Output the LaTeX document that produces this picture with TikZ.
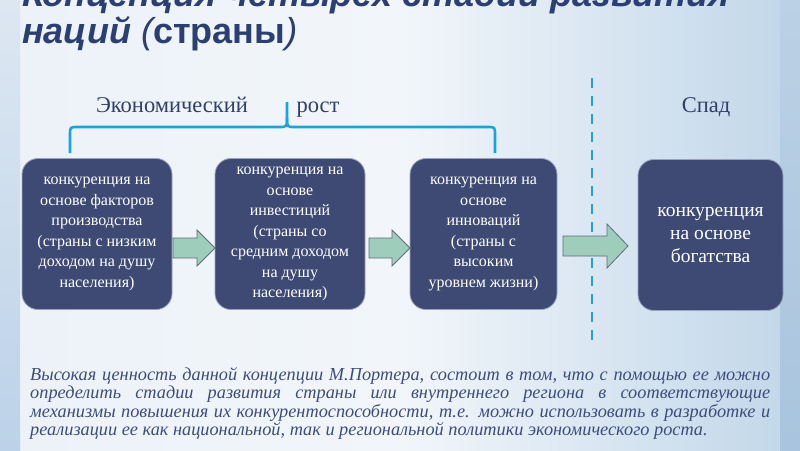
\documentclass[tikz,border=0pt]{standalone}
\usepackage{fontspec}
\setmainfont{Liberation Serif}
\newfontfamily\titlefont{Liberation Sans}
\newfontfamily\parafont{Liberation Serif}
\usetikzlibrary{calc}
\definecolor{titleblue}{HTML}{2B3F73}
\definecolor{boxfill}{HTML}{3E4A74}
\definecolor{boxline}{HTML}{98A2BE}
\definecolor{arrfill}{HTML}{9FCDBB}
\definecolor{arrline}{HTML}{636A7A}
\definecolor{cyanline}{HTML}{1BA3E0}
\definecolor{labelcol}{HTML}{2F3E6A}
\definecolor{paracol}{HTML}{3D4D7A}
\definecolor{bgleft}{HTML}{ECF2F8}
\definecolor{bgmid}{HTML}{F2F6FA}
\definecolor{bgright}{HTML}{C3D8EA}
\definecolor{lstriptop}{HTML}{DDE7F2}
\definecolor{lstripbot}{HTML}{BCD2E8}
\definecolor{rstriptop}{HTML}{BBD1E5}
\definecolor{rstripbot}{HTML}{A9C4DE}
\tikzset{
  stagebox/.style={draw=boxline, line width=0.8pt, fill=boxfill, rounded corners=16pt,
    text=white, align=center, inner sep=0pt, font=\fontsize{16}{20.5}\selectfont},
  blockarr/.style={draw=arrline, line width=0.8pt, fill=arrfill},
  bracepath/.style={draw=cyanline, line width=2.6pt},
  dashpath/.style={draw=cyanline, line width=2.6pt, dash pattern=on 10pt off 8pt},
  toplabel/.style={text=labelcol, inner sep=0pt, anchor=base, font=\fontsize{22.5}{22.5}\selectfont}
}
\begin{document}
\begin{tikzpicture}[x=1pt,y=-1pt]
\useasboundingbox (0,0) rectangle (800,450);
\clip (0,0) rectangle (800,450);
% background
\shade[left color=bgleft, right color=bgright, middle color=bgmid] (20,0) rectangle (780,450);
\shade[top color=lstriptop, bottom color=lstripbot] (0,0) rectangle (20,450);
\shade[top color=rstriptop, bottom color=rstripbot] (780,0) rectangle (800,450);

% title
\node[anchor=base west, inner sep=0pt, text=titleblue,
  font=\titlefont\bfseries\itshape\fontsize{36}{36}\selectfont] (t1) at (22,6)
  {Концепция четырех стадий развития};
\node[anchor=base west, inner sep=0pt, text=titleblue,
  font=\titlefont\bfseries\itshape\fontsize{36}{36}\selectfont] (t2) at (22,43)
  {наций {\mdseries(}{\upshape страны}{\mdseries)}};

% labels
\node[toplabel] (econ) at (172,112) {Экономический};
\node[toplabel] (rost) at (318,112) {рост};
\node[toplabel] (spad) at (706,112) {Спад};

% brace
\draw[bracepath] (70,153) -- (70,135) .. controls (70,127) .. (78,127) -- (279,127)
  .. controls (287,127) .. (287,118) -- (287,102);
\draw[bracepath] (495,153) -- (495,135) .. controls (495,127) .. (487,127) -- (295,127)
  .. controls (287,127) .. (287,118);

% dashed divider
\coordinate (dtop) at (592,78);
\coordinate (dbot) at (592,342);
\draw[dashpath] (dtop) -- (dbot);

% boxes
\node[stagebox, minimum width=150pt, minimum height=151pt] (b1) at (97,234)
  {конкуренция на\\основе факторов\\производства\\(страны с низким\\доходом на душу\\населения)};
\node[stagebox, minimum width=150pt, minimum height=151pt] (b2) at (290,234)
  {конкуренция на\\основе\\инвестиций\\(страны со\\средним доходом\\на душу\\населения)};
\node[stagebox, minimum width=147pt, minimum height=151pt] (b3) at (483.5,234)
  {конкуренция на\\основе\\инноваций\\(страны с\\высоким\\уровнем жизни)};
\node[stagebox, minimum width=145pt, minimum height=151pt,
  font=\fontsize{19.5}{23}\selectfont] (b4) at (710.5,235)
  {конкуренция\\на основе\\богатства};

% block arrows
\filldraw[blockarr] (173,238) -- (197,238) -- (197,230) -- (215,248) -- (197,266) -- (197,258) -- (173,258) -- cycle;
\filldraw[blockarr] (369,238) -- (392,238) -- (392,230) -- (410,248) -- (392,266) -- (392,258) -- (369,258) -- cycle;
\filldraw[blockarr] (563,236) -- (607,236) -- (607,224) -- (628,246) -- (607,268) -- (607,256) -- (563,256) -- cycle;

% paragraph
\node[anchor=base west, inner sep=0pt, text=paracol] (para) at (30,380)
  {\parbox[t]{740pt}{\parafont\itshape\fontsize{18.3}{18.6}\selectfont
   \makebox[740pt][s]{Высокая ценность данной концепции М.Портера, состоит в том, что с помощью ее можно}\\
   \makebox[740pt][s]{определить стадии развития страны или внутреннего региона в соответствующие}\\
   \makebox[740pt][s]{механизмы повышения их конкурентоспособности, т.е. можно использовать в разработке и}\\
   реализации ее как национальной, так и региональной политики экономического роста.}};
\end{tikzpicture}
\end{document}
